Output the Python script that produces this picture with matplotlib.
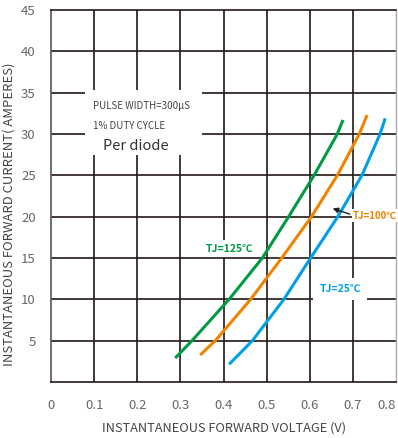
import matplotlib
matplotlib.use("Agg")
import matplotlib.pyplot as plt
from matplotlib.patches import Rectangle

# ---- data ----
v_125 = [0.288, 0.327, 0.413, 0.490, 0.551, 0.610, 0.664, 0.677]
i_125 = [2.9, 5, 10, 15, 20, 25, 30, 31.7]
v_100 = [0.346, 0.381, 0.463, 0.535, 0.604, 0.664, 0.715, 0.733]
i_100 = [3.26, 5, 10, 15, 20, 25, 30, 32.3]
v_25 = [0.413, 0.467, 0.540, 0.602, 0.665, 0.721, 0.763, 0.775]
i_25 = [2.14, 5, 10, 15, 20, 25, 30, 31.9]

x_ticks = [0, 0.1, 0.2, 0.3, 0.4, 0.5, 0.6, 0.7, 0.8]
x_labels = ["0", "0.1", "0.2", "0.3", "0.4", "0.5", "0.6", "0.7", "0.8"]
y_ticks = [5, 10, 15, 20, 25, 30, 35, 40, 45]
y_labels = ["5", "10", "15", "20", "25", "30", "35", "40", "45"]

GREEN = "#009a44"
ORANGE = "#f08300"
BLUE = "#00a0e9"
GRID = "#231815"

plt.rcParams['font.family'] = ['Noto Sans CJK SC', 'DejaVu Sans']

fig = plt.figure(figsize=(3.98, 4.38), dpi=100)
ax = fig.add_axes([51/398, 56/438, 345/398, 372/438])
ax.set_xlim(0, 0.8)
ax.set_ylim(0, 45)

# grid lines
for xv in x_ticks[1:-1]:
    ax.axvline(xv, color=GRID, lw=1.2, zorder=1)
for yv in y_ticks[:-1]:
    ax.axhline(yv, color=GRID, lw=1.2, zorder=1)

for s in ["top", "bottom"]:
    ax.spines[s].set_color(GRID)
    ax.spines[s].set_linewidth(1.2)
ax.spines["left"].set_color("#555555")
ax.spines["left"].set_linewidth(1.2)
ax.spines["right"].set_color("#aaaaaa")
ax.spines["right"].set_linewidth(1.0)

ax.set_xticks(x_ticks)
ax.set_xticklabels(x_labels)
ax.set_yticks(y_ticks)
ax.set_yticklabels(y_labels)
ax.tick_params(axis="both", length=0, colors="#666666", labelsize=9.5)
ax.tick_params(axis="x", pad=12)
ax.tick_params(axis="y", pad=11)
ax.get_xticklabels()[-1].set_horizontalalignment("right")

ax.set_xlabel("INSTANTANEOUS FORWARD VOLTAGE (V)", fontsize=9.2, color="#444444", labelpad=7)
ax.set_ylabel("INSTANTANEOUS FORWARD CURRENT( AMPERES)", fontsize=9.4, color="#444444", labelpad=4)
ax.yaxis.set_label_coords(-0.102, 0.45)

# curves
ax.plot(v_125, i_125, color=GREEN, lw=2.2, zorder=3, solid_capstyle="butt", solid_joinstyle="round")
ax.plot(v_100, i_100, color=ORANGE, lw=2.2, zorder=3, solid_capstyle="butt", solid_joinstyle="round")
ax.plot(v_25, i_25, color=BLUE, lw=2.2, zorder=3, solid_capstyle="butt", solid_joinstyle="round")

# note box
ax.add_patch(Rectangle((0.079, 27.4), 0.271, 7.9, facecolor="white", edgecolor="none", zorder=2))
ax.text(0.098, 33.4, "PULSE WIDTH=300µS", fontsize=7, color="#444444", va="center", zorder=4)
ax.text(0.098, 31.0, "1% DUTY CYCLE", fontsize=7, color="#444444", va="center", zorder=4)
ax.text(0.121, 28.5, "Per diode", fontsize=10.5, color="#333333", va="center", zorder=4)

# curve labels
bbox = dict(facecolor="white", edgecolor="none", pad=2.5)
ax.text(0.414, 16.1, "TJ=125℃", fontsize=7.5, fontweight="bold", color=GREEN,
        ha="center", va="center", bbox=bbox, zorder=4)
ax.text(0.700, 20.1, "TJ=100℃", fontsize=7.0, fontweight="bold", color=ORANGE,
        ha="left", va="center", bbox=dict(facecolor="white", edgecolor="none", pad=1.0), zorder=4)
ax.text(0.670, 11.25, "TJ=25℃", fontsize=7.5, fontweight="bold", color=BLUE,
        ha="center", va="center", bbox=dict(facecolor="white", edgecolor="none", pad=4.5), zorder=4)
ax.annotate("", xy=(0.647, 21.1), xytext=(0.699, 20.2),
            arrowprops=dict(arrowstyle="-|>", color="#222222", lw=1.0, mutation_scale=8), zorder=4)

fig.savefig("out.png", dpi=100)
